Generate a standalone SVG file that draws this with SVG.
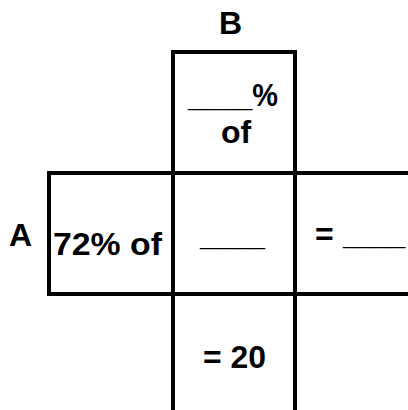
<svg xmlns="http://www.w3.org/2000/svg" width="408" height="410" viewBox="0 0 408 410">
<style>
.ln{stroke:#000;stroke-width:4;stroke-linecap:square;fill:none}
.t{font-family:"Liberation Sans",Arial,sans-serif;font-weight:bold;font-size:32px;fill:#000}
</style>
<rect width="408" height="410" fill="#fff"/>
<g id="grid">
<line class="ln" x1="173" y1="52" x2="295" y2="52"/>
<line class="ln" x1="173" y1="52" x2="173" y2="412"/>
<line class="ln" x1="295" y1="52" x2="295" y2="412"/>
<line class="ln" x1="49" y1="173" x2="410" y2="173"/>
<line class="ln" x1="49" y1="294" x2="410" y2="294"/>
<line class="ln" x1="49" y1="173" x2="49" y2="294"/>
</g>
<g id="labelB"><text class="t" x="219" y="34">B</text></g>
<g id="labelA"><text class="t" x="9" y="246">A</text></g>
<g id="cellTop">
<text class="t" x="188" y="106" textLength="90" lengthAdjust="spacingAndGlyphs">____%</text>
<text class="t" x="221" y="143">of</text>
</g>
<g id="cellLeft"><text class="t" x="53" y="255" textLength="109" lengthAdjust="spacingAndGlyphs">72% of</text></g>
<g id="cellCenter"><text class="t" x="200" y="245" textLength="65" lengthAdjust="spacingAndGlyphs">____</text></g>
<g id="cellRight">
<text class="t" x="315" y="245">=</text>
<text class="t" x="343" y="245" style="font-size:28px">____</text>
</g>
<g id="cellBottom"><text class="t" x="203" y="368" textLength="63" lengthAdjust="spacingAndGlyphs">= 20</text></g>
</svg>
